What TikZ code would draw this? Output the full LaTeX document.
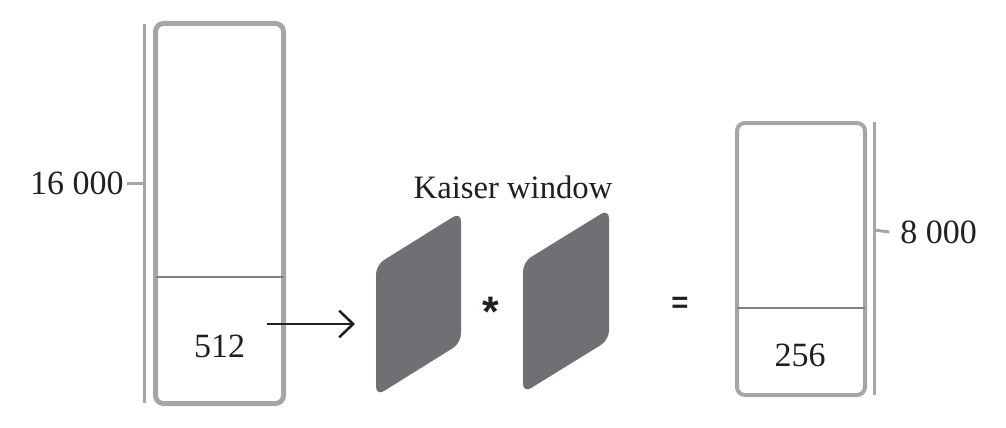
\documentclass[tikz,border=0pt]{standalone}
\usepackage{fontspec}
\setmainfont{Liberation Serif}
\newfontfamily\sansf{Liberation Sans}
\usetikzlibrary{arrows.meta}

\definecolor{boxgray}{HTML}{A4A6A8}
\definecolor{cutgray}{HTML}{7F8184}
\definecolor{wingray}{HTML}{6F7073}
\definecolor{inkblack}{HTML}{231F20}

\tikzset{
  frame/.style={draw=boxgray, rounded corners=6pt},
  bar/.style={draw=boxgray, line width=2.25pt},
  cut/.style={draw=cutgray, line width=1.5pt},
  win/.style={fill=wingray, rounded corners=7pt},
  num/.style={inner sep=0pt, text=inkblack, font=\fontsize{25.5}{30}\selectfont},
}

\begin{document}
\begin{tikzpicture}[x=0.75pt, y=-0.75pt]
  \useasboundingbox (0,0) rectangle (1006,428);

  % input block
  \draw[frame, line width=3.75pt] (155.5,23.5) rectangle (283.5,403.5);
  \draw[cut] (155.5,277) -- (283.5,277);
  \node (in) at (219.5,346) [num] {512};

  \coordinate (b0) at (144,24);
  \coordinate (b1) at (144,403);
  \coordinate (t16) at (144,183.5);
  \draw[bar] (b0) to (b1);
  \node (l16) at (124,183.5) [num, anchor=east] {16 000};
  \draw[bar] (t16) to ([xshift=2.5pt]l16.east);

  % arrow to the windows
  \coordinate (a0) at (267,324);
  \coordinate (a1) at (355,324);
  \draw[inkblack, line width=1.9pt, -{Straight Barb[length=10.5pt,width=20pt,line width=1.9pt]}] (a0) to (a1);

  % Kaiser windows
  \fill[win] (376,265) -- (461,212) -- (461,343) -- (376,396) -- cycle;
  \fill[win] (523,262) -- (609,209) -- (609,340) -- (523,393) -- cycle;
  \node (kw) at (513,198) [num, anchor=base, font=\fontsize{24.5}{29}\selectfont] {Kaiser window};
  \node (star) at (490.5,312) [num, font=\sansf\bfseries\fontsize{32}{38}\selectfont] {*};
  \node (eq) at (680,305) [num, font=\sansf\bfseries\fontsize{22}{27}\selectfont] {=};

  % output block
  \draw[frame, line width=3pt] (737,123) rectangle (865,395);
  \draw[cut] (737,308) -- (865,308);
  \node (out) at (800,355) [num] {256};

  \coordinate (c0) at (874,122);
  \coordinate (c1) at (874,395);
  \coordinate (t8) at (874,230);
  \draw[bar] (c0) to (c1);
  \node (l8) at (900,232) [num, anchor=west] {8 000};
  \draw[bar] (t8) to ([xshift=-8pt]l8.west);
\end{tikzpicture}
\end{document}
